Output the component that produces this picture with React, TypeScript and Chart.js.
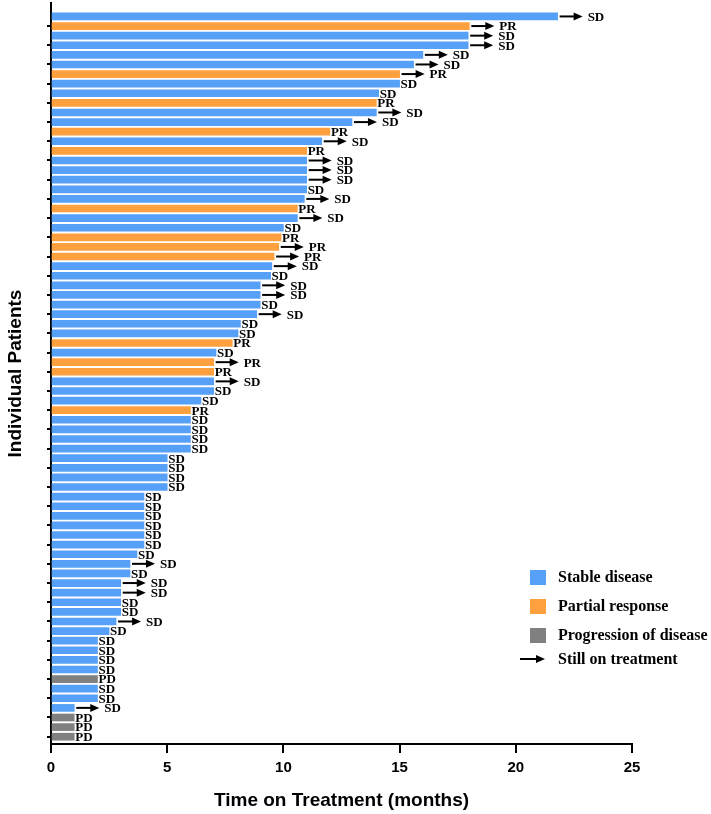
import React, { useEffect, useRef } from 'react';
import { Chart, registerables } from 'chart.js';

Chart.register(...registerables);

// Months on treatment, one entry per patient (top to bottom)
const months: number[] = [
  21.8, 18.0, 17.95, 17.95, 16.0, 15.6, 15.0, 15.0, 14.1, 14.0,
  14.0, 12.95, 12.0, 11.65, 11.0, 11.0, 11.0, 11.0, 11.0, 10.9,
  10.6, 10.6, 10.0, 9.9, 9.8, 9.6, 9.5, 9.45, 9.0, 9.0,
  9.0, 8.85, 8.15, 8.05, 7.8, 7.1, 7.0, 7.0, 7.0, 7.0,
  6.45, 6.0, 6.0, 6.0, 6.0, 6.0, 5.0, 5.0, 5.0, 5.0,
  4.0, 4.0, 4.0, 4.0, 4.0, 4.0, 3.7, 3.4, 3.4, 3.0,
  3.0, 3.0, 3.0, 2.8, 2.5, 2.0, 2.0, 2.0, 2.0, 2.0,
  2.0, 2.0, 1.0, 1.0, 1.0, 1.0,
];

// Best response per patient
const responses: string[] = [
  'SD', 'PR', 'SD', 'SD', 'SD', 'SD', 'PR', 'SD', 'SD', 'PR',
  'SD', 'SD', 'PR', 'SD', 'PR', 'SD', 'SD', 'SD', 'SD', 'SD',
  'PR', 'SD', 'SD', 'PR', 'PR', 'PR', 'SD', 'SD', 'SD', 'SD',
  'SD', 'SD', 'SD', 'SD', 'PR', 'SD', 'PR', 'PR', 'SD', 'SD',
  'SD', 'PR', 'SD', 'SD', 'SD', 'SD', 'SD', 'SD', 'SD', 'SD',
  'SD', 'SD', 'SD', 'SD', 'SD', 'SD', 'SD', 'SD', 'SD', 'SD',
  'SD', 'SD', 'SD', 'SD', 'SD', 'SD', 'SD', 'SD', 'SD', 'PD',
  'SD', 'SD', 'SD', 'PD', 'PD', 'PD',
];

// Still on treatment (1 = arrow)
const onTreatment: number[] = [
  1, 1, 1, 1, 1, 1, 1, 0, 0, 0,
  1, 1, 0, 1, 0, 1, 1, 1, 0, 1,
  0, 1, 0, 0, 1, 1, 1, 0, 1, 1,
  0, 1, 0, 0, 0, 0, 1, 0, 1, 0,
  0, 0, 0, 0, 0, 0, 0, 0, 0, 0,
  0, 0, 0, 0, 0, 0, 0, 1, 0, 1,
  1, 0, 0, 1, 0, 0, 0, 0, 0, 0,
  0, 0, 1, 0, 0, 0,
];

const xTicks: number[] = [0, 5, 10, 15, 20, 25];
const legendKeys: string[] = ['SD', 'PR', 'PD'];
const legendLabels: string[] = ['Stable disease', 'Partial response', 'Progression of disease'];
const arrowLegendLabel = 'Still on treatment';

const COLORS: Record<string, string> = { SD: '#56A0F7', PR: '#FFA03F', PD: '#808080' };
const LABEL_FONT = 'bold 13px "Liberation Serif", "Times New Roman", serif';
const LEGEND_FONT = 'bold 16px "Liberation Serif", "Times New Roman", serif';

function drawArrow(ctx: CanvasRenderingContext2D, x0: number, x1: number, y: number) {
  ctx.save();
  ctx.strokeStyle = '#000';
  ctx.fillStyle = '#000';
  ctx.lineWidth = 2;
  ctx.beginPath();
  ctx.moveTo(x0, y);
  ctx.lineTo(x1 - 6, y);
  ctx.stroke();
  ctx.beginPath();
  ctx.moveTo(x1, y);
  ctx.lineTo(x1 - 9, y - 4);
  ctx.lineTo(x1 - 9, y + 4);
  ctx.closePath();
  ctx.fill();
  ctx.restore();
}

const annotationPlugin = {
  id: 'swimmerAnnotations',
  afterDatasetsDraw(chart: any) {
    const ctx: CanvasRenderingContext2D = chart.ctx;
    const xs = chart.scales.x;
    const ys = chart.scales.y;
    ctx.save();
    ctx.font = LABEL_FONT;
    ctx.textBaseline = 'middle';
    ctx.textAlign = 'left';
    ctx.fillStyle = '#000';
    months.forEach((m, i) => {
      const xp = xs.getPixelForValue(m);
      const yp = ys.getPixelForValue(i + 1);
      if (onTreatment[i]) {
        drawArrow(ctx, xp + 2, xp + 25, yp);
        ctx.fillText(responses[i], xp + 30, yp + 1);
      } else {
        ctx.fillText(responses[i], xp + 1, yp + 1);
      }
    });
    // Legend
    const lx = 530;
    const ly = 570;
    const step = 29;
    ctx.font = LEGEND_FONT;
    legendKeys.forEach((k, i) => {
      ctx.fillStyle = COLORS[k];
      ctx.fillRect(lx, ly + i * step, 16, 15);
      ctx.fillStyle = '#000';
      ctx.fillText(legendLabels[i], 558, ly + i * step + 8);
    });
    const ay = ly + 3 * step + 2;
    drawArrow(ctx, 520, 545, ay);
    ctx.fillStyle = '#000';
    ctx.fillText(arrowLegendLabel, 558, ay + 1);
    ctx.restore();
  },
};

export default function App() {
  const canvasRef = useRef<HTMLCanvasElement | null>(null);

  useEffect(() => {
    document.body.style.margin = '0';
    const canvas = canvasRef.current;
    if (!canvas) return;
    const evenRows: number[] = [];
    for (let r = 2; r <= months.length; r += 2) evenRows.push(r);

    const chart = new Chart(canvas, {
      type: 'bar',
      data: {
        datasets: [
          {
            data: months.map((m, i) => ({ x: m, y: i + 1 })),
            backgroundColor: responses.map((r) => COLORS[r]),
            borderWidth: 0,
            barThickness: 7,
          } as any,
        ],
      },
      options: {
        animation: false,
        responsive: false,
        indexAxis: 'y',
        layout: { padding: { top: 3, right: 79, bottom: 0, left: 0 } },
        plugins: { legend: { display: false }, tooltip: { enabled: false } },
        scales: {
          x: {
            type: 'linear',
            min: 0,
            max: 25,
            afterBuildTicks: (s: any) => {
              s.ticks = xTicks.map((v) => ({ value: v }));
            },
            afterFit: (s: any) => {
              s.height = 70;
            },
            grid: {
              drawOnChartArea: false,
              drawTicks: true,
              tickLength: 9,
              lineWidth: 2,
              color: '#000',
            },
            border: { display: true, color: '#000', width: 2 },
            ticks: {
              color: '#000',
              padding: 6,
              font: { family: '"Liberation Sans", Arial, sans-serif', size: 15, weight: 'bold' },
            },
            title: {
              display: true,
              text: 'Time on Treatment (months)',
              color: '#000',
              padding: { top: 4, bottom: 2 },
              font: { family: '"Liberation Sans", Arial, sans-serif', size: 19, weight: 'bold' },
            },
          },
          y: {
            type: 'linear',
            reverse: true,
            min: -0.4,
            max: 76.76,
            offset: false,
            afterBuildTicks: (s: any) => {
              s.ticks = evenRows.map((v) => ({ value: v }));
            },
            afterFit: (s: any) => {
              s.width = 51;
            },
            grid: {
              offset: false,
              drawOnChartArea: false,
              drawTicks: true,
              tickLength: 4,
              lineWidth: 2,
              color: '#000',
            },
            border: { display: true, color: '#000', width: 2 },
            ticks: { display: false },
            title: {
              display: true,
              text: 'Individual Patients',
              color: '#000',
              padding: { top: 4, bottom: 4 },
              font: { family: '"Liberation Sans", Arial, sans-serif', size: 19, weight: 'bold' },
            },
          },
        },
      } as any,
      plugins: [annotationPlugin],
    });
    return () => chart.destroy();
  }, []);

  return (
    <div style={{ width: 711, height: 814, background: '#fff' }}>
      <canvas ref={canvasRef} width={711} height={814} />
    </div>
  );
}
